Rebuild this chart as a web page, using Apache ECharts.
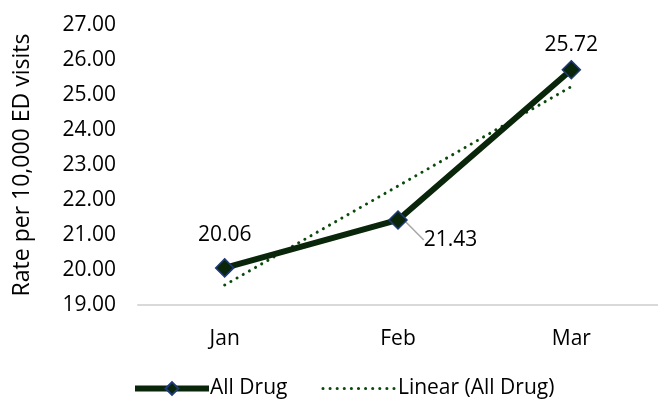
<!DOCTYPE html>
<html><head><meta charset="utf-8">
<script src="https://cdn.jsdelivr.net/npm/echarts@6/dist/echarts.min.js"></script>
<style>html,body{margin:0;padding:0;background:#fff}#c{width:658px;height:400px}</style>
</head><body><div id="c"></div>
<script>
const categories = ['Jan', 'Feb', 'Mar'];
const allDrug = [20.06, 21.43, 25.72];
const linearTrend = [19.57, 22.40, 25.24];
const yMin = 19, yMax = 27, yStep = 1;
const FONT = 'Open Sans';
const FS = 21;
const chart = echarts.init(document.getElementById('c'));
chart.setOption({
  animation: false,
  textStyle: { fontFamily: FONT },
  grid: { left: 138, right: 0, top: 25, bottom: 95, outerBoundsMode: 'none', containLabel: false },
  legend: {
    left: 127, top: 373, itemWidth: 74, itemHeight: 16, itemGap: 34,
    textStyle: { fontFamily: FONT, fontSize: FS, color: '#000', padding: [0,0,0,-4] },
    data: [
      { name: 'All Drug', lineStyle: { width: 6 } },
      { name: 'Linear (All Drug)', itemStyle: { opacity: 0 }, lineStyle: { width: 3 } }
    ]
  },
  xAxis: {
    type: 'category', data: categories, boundaryGap: true,
    axisLine: { lineStyle: { color: '#d9d9d9', width: 2 } },
    axisTick: { show: false },
    axisLabel: { color: '#000', fontSize: FS, margin: 24, fontFamily: FONT }
  },
  yAxis: {
    type: 'value', min: yMin, max: yMax, interval: yStep,
    name: 'Rate per 10,000 ED visits', nameLocation: 'middle', nameGap: 104,
    nameTextStyle: { color: '#000', fontSize: 23, fontFamily: FONT },
    axisLine: { show: false }, axisTick: { show: false }, splitLine: { show: false },
    axisLabel: { color: '#000', fontSize: FS, margin: 22, fontFamily: FONT,
      formatter: v => v.toFixed(2) }
  },
  series: [
    {
      name: 'Linear (All Drug)', type: 'line', data: linearTrend, symbol: 'none',
      lineStyle: { color: '#0b4a0b', width: 3, type: [0.1, 7], cap: 'round' },
      itemStyle: { color: '#0b4a0b' }, z: 3
    },
    {
      name: 'All Drug', type: 'line',
      data: allDrug.map((v, i) => i === 1 ? {
          value: v,
          label: { position: 'right', distance: 6 },
          labelLine: { show: true, lineStyle: { color: '#a6a6a6', width: 1.5 } }
        } : i === 2 ? { value: v, label: { distance: 5 } } : v),
      symbol: 'diamond', symbolSize: 18,
      lineStyle: { color: '#0a260a', width: 6 },
      itemStyle: { color: '#0a260a', borderColor: '#1f3a78', borderWidth: 1.5 },
      label: { show: true, position: 'top', distance: 13, color: '#000', fontSize: FS,
        fontFamily: FONT, formatter: p => p.value.toFixed(2) },
      labelLayout: p => p.dataIndex === 1 ? { dx: 10, dy: 20 } : {},
      z: 4
    }
  ]
});
</script></body></html>
